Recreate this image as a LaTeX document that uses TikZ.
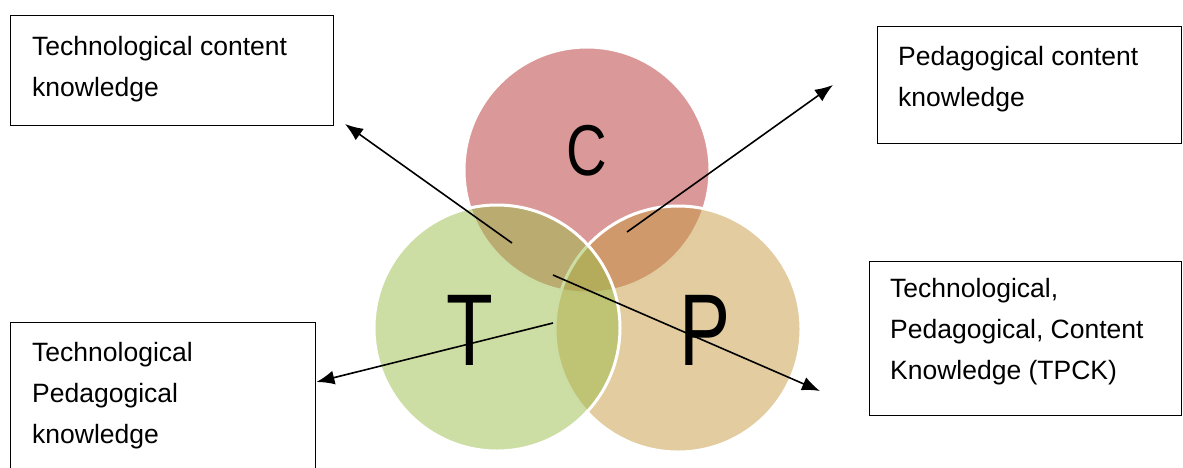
\documentclass[tikz,border=0pt]{standalone}
\usepackage{fontspec}
\setmainfont{Liberation Sans}
\usetikzlibrary{arrows.meta}

\definecolor{cfill}{RGB}{192,80,77}
\definecolor{tfill}{RGB}{155,189,75}
\definecolor{pfill}{RGB}{197,153,65}

\tikzset{
  setcircle/.style={circle, draw=white, line width=3pt, fill opacity=0.5, minimum size=246pt, inner sep=0pt},
  setletter/.style={inner sep=0pt, anchor=base, text=black},
  labelbox/.style={draw=black, line width=1.4pt, anchor=north west, inner sep=0pt},
  labeltext/.style={inner sep=0pt, anchor=base west, align=left, font=\fontsize{26.5}{41}\selectfont},
  pointer/.style={line width=1.6pt, -{Latex[length=18pt,width=14pt]}}
}

\begin{document}
\begin{tikzpicture}[x=1pt, y=-1pt]
\useasboundingbox (0,0) rectangle (1183,467);

% the three knowledge sets (content, pedagogy, technology)
\node[setcircle, fill=cfill, fill opacity=0.58] (C) at (587,170) {};
\node[setcircle, fill=pfill] (P) at (678,329) {};
\node[setcircle, fill=tfill] (T) at (497,328) {};

\node[setletter, font=\fontsize{72}{72}\selectfont] (Cl) at (587,175) {\scalebox{0.78}[1]{C}};
\node[setletter, font=\fontsize{102}{102}\selectfont] (Tl) at (470,365) {\scalebox{0.75}[1]{T}};
\node[setletter, font=\fontsize{102}{102}\selectfont] (Pl) at (705,365) {\scalebox{0.75}[1]{P}};

% label boxes; each text is placed by the baseline of its last line
\node[labelbox, minimum width=323pt, minimum height=110pt] (tck) at (10,15) {};
\node[labeltext] (tckt) at (32,96) {Technological content\\knowledge};

\node[labelbox, minimum width=304pt, minimum height=117pt] (pck) at (877,26) {};
\node[labeltext] (pckt) at (898,106) {Pedagogical content\\knowledge};

\node[labelbox, minimum width=312pt, minimum height=154pt] (tpck) at (869,261) {};
\node[labeltext] (tpckt) at (890,379) {Technological,\\Pedagogical, Content\\Knowledge (TPCK)};

\node[labelbox, minimum width=305pt, minimum height=160pt] (tpk) at (10,322) {};
\node[labeltext] (tpkt) at (32,443) {Technological\\Pedagogical\\knowledge};

% pointers from the overlap regions to their labels
\coordinate (ctSrc) at (512,243);
\coordinate (cpSrc) at (627,232);
\coordinate (allSrc) at (553,275);
\coordinate (tpSrc) at (553,323);
\coordinate (ctTip) at (345,124);
\coordinate (cpTip) at (833,85);
\coordinate (allTip) at (820,391);
\coordinate (tpTip) at (tpk.east |- 0,382);

\draw[pointer] (ctSrc) -- (ctTip);
\draw[pointer] (cpSrc) -- (cpTip);
\draw[pointer] (allSrc) -- (allTip);
\draw[pointer] (tpSrc) -- (tpTip);
\end{tikzpicture}
\end{document}
